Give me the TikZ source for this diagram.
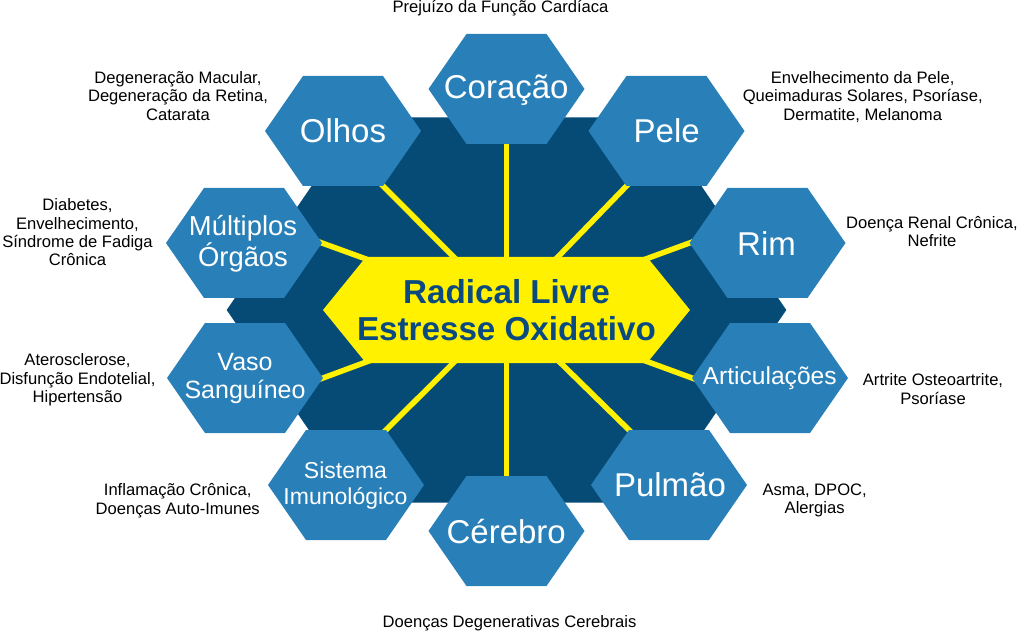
\documentclass[tikz,border=0pt]{standalone}
\usepackage{fontspec}
\setmainfont{Liberation Sans}
\definecolor{hexblue}{RGB}{41,128,185}
\definecolor{darkhex}{RGB}{5,75,118}
\definecolor{coreyellow}{RGB}{255,241,0}
\definecolor{coretext}{RGB}{10,74,128}
\newcommand{\setfs}[2]{\fontsize{#1}{#2}\selectfont}
\newcommand{\hexcoords}[3]{%
  \coordinate (#1-l) at (#2-78,#3);
  \coordinate (#1-tl) at (#2-40,#3-55);
  \coordinate (#1-tr) at (#2+40,#3-55);
  \coordinate (#1-r) at (#2+78,#3);
  \coordinate (#1-br) at (#2+40,#3+55);
  \coordinate (#1-bl) at (#2-40,#3+55);
  \coordinate (#1-t) at (#2,#3-55);
  \coordinate (#1-b) at (#2,#3+55);}
\newcommand{\hexshape}[1]{\fill[hexfill] (#1-l) -- (#1-tl) -- (#1-tr) -- (#1-r) -- (#1-br) -- (#1-bl) -- cycle;}
\tikzset{
  hexfill/.style={fill=hexblue},
  spoke/.style={draw=coreyellow, line width=5.5pt, shorten >=-12pt},
  desc/.style={font=\setfs{16.6}{18.3}, align=center, text=black, inner sep=0pt},
  bigl/.style={font=\setfs{33}{40}, text=white, inner sep=0pt, anchor=base},
  midl/.style={text=white, inner sep=0pt, align=center},
  corel/.style={font=\bfseries\setfs{33.2}{37}, text=coretext, align=center, inner sep=0pt}
}
\begin{document}
\begin{tikzpicture}[x=1pt,y=-1pt]
\useasboundingbox (0,0) rectangle (1018,631);
\fill[white] (0,0) rectangle (1018,631);
% dark background hexagon
\fill[darkhex] (226.7,310) -- (358.5,117.5) -- (654.5,117.5) -- (786.3,310) -- (654.5,502.5) -- (358.5,502.5) -- cycle;
% coordinates of the cells
\coordinate (ctr) at (506.5,310);
\hexcoords{coracao}{506.5}{89}
\hexcoords{olhos}{343}{131}
\hexcoords{pele}{666.5}{131}
\hexcoords{multiplos}{244}{243}
\hexcoords{rim}{767.5}{243}
\hexcoords{vaso}{245}{378}
\hexcoords{artic}{770}{378}
\hexcoords{sistema}{346}{485}
\hexcoords{pulmao}{669}{485}
\hexcoords{cerebro}{506.5}{531}
% spokes
\draw[spoke] (ctr) -- (coracao-b);
\draw[spoke] (ctr) -- (olhos-br);
\draw[spoke] (ctr) -- (pele-bl);
\draw[spoke] (ctr) -- (multiplos-r);
\draw[spoke] (ctr) -- (rim-l);
\draw[spoke] (ctr) -- (vaso-r);
\draw[spoke] (ctr) -- (artic-l);
\draw[spoke] (ctr) -- (sistema-tr);
\draw[spoke] (ctr) -- (pulmao-tl);
\draw[spoke] (ctr) -- (cerebro-t);
% yellow core
\fill[coreyellow] (323,310) -- (366,257) -- (647,257) -- (690,310) -- (647,363) -- (366,363) -- cycle;
% outer cells
\hexshape{coracao}
\hexshape{olhos}
\hexshape{pele}
\hexshape{multiplos}
\hexshape{rim}
\hexshape{vaso}
\hexshape{artic}
\hexshape{sistema}
\hexshape{pulmao}
\hexshape{cerebro}
% labels
\node[corel] (core) at (506.5,310) {Radical Livre\\Estresse Oxidativo};
\node[bigl] (coracaoT) at (506.2,98.3) {Coração};
\node[bigl] (olhosT) at (343,142.7) {Olhos};
\node[bigl] (peleT) at (666.7,142.7) {Pele};
\node[bigl] (rimT) at (766.5,256) {Rim};
\node[bigl] (pulmaoT) at (670,496.7) {Pulmão};
\node[bigl] (cerebroT) at (506.2,543.3) {Cérebro};
\node[midl, font=\setfs{27.4}{31.7}] (multiplosT) at (243,243.8) {Múltiplos\\Órgãos};
\node[midl, font=\setfs{25}{27.7}] (vasoT) at (245,378.2) {Vaso\\Sanguíneo};
\node[midl, font=\setfs{24.6}{30}, anchor=base] (articT) at (769.7,384) {Articulações};
\node[midl, font=\setfs{23}{25.7}] (sistemaT) at (345.5,485.3) {Sistema\\Imunológico};
% descriptions
\node[desc, anchor=base] (dCor) at (500.5,12.7) {Prejuízo da Função Cardíaca};
\node[desc, anchor=base] (dCer) at (509.5,627) {Doenças Degenerativas Cerebrais};
\node[desc] (dOlh) at (178,95.8) {Degeneração Macular,\\Degeneração da Retina,\\Catarata};
\node[desc] (dMul) at (77.5,232.3) {Diabetes,\\Envelhecimento,\\Síndrome de Fadiga\\Crônica};
\node[desc] (dPel) at (862.7,97) {Envelhecimento da Pele,\\Queimaduras Solares, Psoríase,\\Dermatite, Melanoma};
\node[desc] (dRim) at (932,231.6) {Doença Renal Crônica,\\Nefrite};
\node[desc] (dVas) at (77.5,379.8) {Aterosclerose,\\Disfunção Endotelial,\\Hipertensão};
\node[desc] (dSis) at (177.7,500.7) {Inflamação Crônica,\\Doenças Auto-Imunes};
\node[desc] (dArt) at (933,389) {Artrite Osteoartrite,\\Psoríase};
\node[desc] (dPul) at (814.7,500.7) {Asma, DPOC,\\Alergias};
\end{tikzpicture}
\end{document}
